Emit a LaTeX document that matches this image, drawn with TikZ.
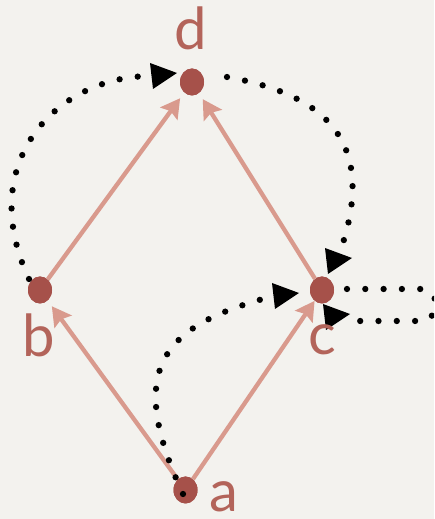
\documentclass[tikz,border=0pt]{standalone}
\usepackage{fontspec}
\setmainfont{Lato}
\usetikzlibrary{shapes.geometric,arrows.meta,calc}
\definecolor{paper}{HTML}{F3F2EE}
\definecolor{vert}{HTML}{A6514A}
\definecolor{lblcol}{HTML}{B3645A}
\definecolor{edgepink}{HTML}{D99A8D}
\tikzset{
  vertex/.style={ellipse,fill=vert,minimum width=24pt,minimum height=27pt,inner sep=0pt},
  lbl/.style={text=lblcol,font=\fontsize{58}{58}\selectfont,inner sep=0pt,anchor=base,text depth=0pt},
  pinkedge/.style={draw=edgepink,line width=4.3pt,-{Stealth[length=19pt,width=21pt,inset=3pt]}},
  dotpath/.style={black,line width=6.3pt,line cap=round,dash pattern=on 0pt off 18.3pt},
  headfill/.style={fill=black}
}
\begin{document}
\begin{tikzpicture}[x=1pt,y=1pt]
\fill[paper] (0,0) rectangle (434,519);
\clip (0,0) rectangle (434,519);
\coordinate (pd) at (192,437);
\coordinate (pb) at (40,229);
\coordinate (pc) at (322,229);
\coordinate (pa) at (185.5,29);
\node[vertex] (d) at (pd) {};
\node[vertex] (b) at (pb) {};
\node[vertex] (c) at (pc) {};
\node[vertex] (a) at (pa) {};
% solid edges
\draw[pinkedge,shorten >=7pt] (a) -- (b);
\draw[pinkedge] (a) -- (c);
\draw[pinkedge,shorten >=7pt] (b) -- (d);
\draw[pinkedge,shorten >=7pt] (c) -- (d);
% vertices on top of the edges
\node[vertex] at (pd) {};
\node[vertex] at (pb) {};
\node[vertex] at (pc) {};
\node[vertex] at (pa) {};
% dotted connectors
\draw[dotpath] ($(b)+(-11,11)$) .. controls +(-54,115) and +(-95,-1) .. ($(d)+(-42,6)$);
\draw[dotpath] ($(d)+(35,5)$) .. controls +(98.5,-17.4) and +(34,104.5) .. ($(c)+(20,44)$);
\draw[dotpath] ($(a)+(-2.5,-4)$) .. controls +(-59,127) and +(-106,-28.5) .. ($(c)+(-52,-7)$);
\draw[dotpath] ($(c)+(25,1)$) -- ($(c)+(98,1)$) arc[start angle=90,end angle=-90,radius=16] -- ($(c)+(26,-31)$);
% arrowheads
\coordinate (td) at ($(d)+(-15,9)$);
\coordinate (tc1) at ($(c)+(30,32)$);
\coordinate (tc2) at ($(c)+(28,-24)$);
\coordinate (tc3) at ($(c)+(-23,-3)$);
\fill[headfill] (td) -- +(-27,10) -- +(-24,-16) -- cycle;
\fill[headfill] (tc1) -- +(-27,10) -- +(-24,-16) -- cycle;
\fill[headfill] (tc2) -- +(-27,10) -- +(-24,-16) -- cycle;
\fill[headfill] (tc3) -- +(-27,10) -- +(-24,-16) -- cycle;
% labels
\node[lbl] (ld) at ($(d)+(-1,32)$) {d};
\node[lbl] (lb) at ($(b)+(-1,-67)$) {b};
\node[lbl] (lc) at ($(c)+(0,-65)$) {c};
\node[lbl] (la) at ($(a)+(38.5,-22)$) {a};
\end{tikzpicture}
\end{document}
